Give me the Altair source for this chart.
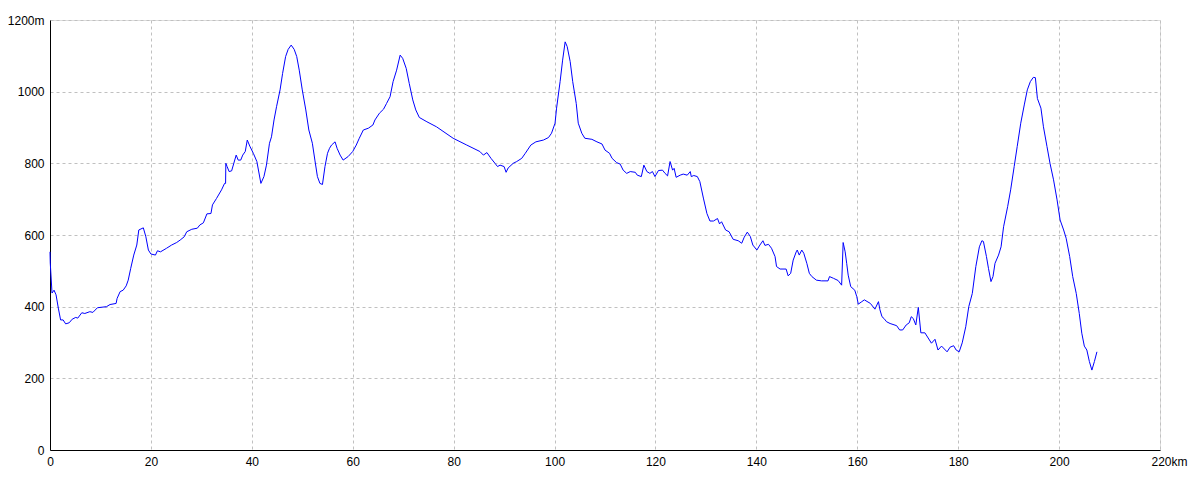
import altair as alt
import pandas as pd

km = [0.0, 0.05, 0.4, 0.8, 1.2, 1.65, 2.1, 2.6, 3.1, 3.8, 4.4, 5.1, 5.5, 6.3, 6.9, 7.9, 8.5, 9.4,
      11.2, 11.9, 13.1, 13.3, 13.9, 14.5, 15.1, 15.5, 16.0, 16.6, 17.2, 17.6, 18.5, 19.0, 19.5,
      20.0, 20.9, 21.3, 21.9, 23.1, 24.1, 25.1, 25.8, 26.6, 27.1, 28.1, 29.2, 29.7, 30.4, 31.1,
      31.9, 32.2, 33.0, 34.0, 34.6, 34.8, 34.85, 35.1, 35.5, 36.0, 36.9, 37.3, 37.8, 38.2, 38.7,
      39.1, 39.6, 40.3, 41.0, 41.8, 42.4, 42.9, 43.5, 43.9, 44.4, 44.9, 45.6, 46.1, 46.7, 47.2,
      47.8, 48.4, 48.9, 49.4, 50.0, 50.7, 51.3, 52.0, 52.5, 53.0, 53.5, 54.0, 54.5, 55.0, 55.4,
      55.8, 56.5, 56.9, 57.5, 58.1, 59.1, 60.0, 60.7, 61.3, 62.1, 63.1, 64.0, 64.4, 65.3, 66.1,
      66.7, 67.4, 68.0, 68.7, 69.4, 69.9, 70.6, 71.2, 71.9, 72.5, 73.2, 74.7, 76.6, 79.9, 82.6,
      85.2, 85.9, 86.6, 87.4, 88.2, 88.7, 89.2, 90.0, 90.4, 90.8, 91.8, 92.5, 93.5, 94.2, 95.3,
      96.3, 97.8, 98.8, 99.4, 100.1, 100.4, 101.1, 101.6, 102.1, 102.5, 103.1, 103.6, 104.3,
      104.7, 105.4, 106.0, 107.4, 108.4, 109.4, 110.0, 110.9, 111.4, 112.3, 113.0, 113.6, 114.3,
      115.0, 116.0, 116.4, 117.2, 117.7, 118.3, 118.9, 119.4, 119.9, 120.6, 121.4, 121.9, 122.4,
      122.9, 123.4, 123.7, 124.1, 124.9, 125.5, 126.3, 126.9, 127.1, 127.6, 128.3, 128.8, 129.5,
      130.2, 130.8, 131.5, 132.3, 132.7, 133.1, 133.9, 134.6, 135.4, 136.4, 137.1, 137.6, 138.2,
      138.8, 139.3, 140.1, 140.7, 141.3, 141.7, 142.4, 143.0, 143.7, 144.0, 144.7, 145.9, 146.3,
      146.8, 147.3, 147.9, 148.1, 148.5, 149.0, 149.4, 150.0, 150.5, 151.0, 151.9, 152.9, 154.2,
      154.5, 155.3, 156.2, 156.9, 157.2, 157.6, 157.9, 158.2, 158.7, 159.5, 159.9, 160.2, 160.9,
      161.4, 162.6, 163.5, 164.2, 164.5, 164.9, 165.3, 165.8, 166.5, 167.8, 168.4, 169.0, 169.7,
      170.3, 170.7, 171.1, 171.6, 172.1, 172.6, 173.4, 174.7, 175.4, 176.0, 176.7, 177.8, 178.4,
      179.1, 179.6, 180.2, 180.8, 181.5, 182.1, 182.8, 183.5, 184.2, 184.7, 185.0, 185.6, 186.0,
      186.5, 186.9, 187.3, 188.0, 188.5, 189.0, 189.8, 190.4, 191.1, 191.7, 192.4, 193.1, 193.7,
      194.3, 194.9, 195.3, 195.7, 196.4, 196.9, 197.6, 198.2, 198.9, 199.6, 200.2, 200.9, 201.4,
      202.1, 202.7, 203.4, 204.0, 204.5, 205.0, 205.5, 206.0, 206.5, 207.0, 207.5]

elev = [553, 522, 438, 446, 433, 396, 363, 363, 352, 355, 365, 370, 368, 383, 381, 386, 384, 397,
        400, 406, 409, 423, 442, 446, 458, 474, 507, 544, 572, 614, 620, 595, 558,
        547, 544, 556, 553, 563, 572, 579, 586, 595, 609, 616, 619, 628, 634, 659,
        660, 684, 702, 726, 744, 744, 800, 791, 777, 779, 823, 809, 809, 823, 833,
        865, 848, 828, 805, 744, 763, 795, 856, 874, 921, 958, 1005, 1051, 1098, 1118,
        1130, 1118, 1098, 1060, 1005, 949, 893, 856, 809, 763, 744, 741, 791, 828, 842,
        851, 860, 842, 823, 809, 819, 833, 851, 870, 893, 898, 907, 921, 940, 951,
        967, 986, 1028, 1060, 1102, 1093, 1065, 1023, 977, 949, 928, 916, 902, 870, 851,
        833, 823, 830, 814, 800, 791, 795, 791, 775, 787, 800, 805, 814, 828, 851,
        860, 865, 872, 884, 912, 954, 1028, 1088, 1139, 1126, 1084, 1028, 967,
        912, 884, 870, 867, 860, 854, 837, 828, 814, 802, 798, 781, 772,
        777, 775, 767, 763, 795, 777, 772, 777, 763, 780, 781, 772, 765,
        805, 781, 786, 761, 767, 770, 767, 777, 763, 766, 763, 749, 703,
        660, 639, 639, 646, 631, 637, 614, 609, 588, 584, 577, 594, 608,
        596, 572, 558, 572, 584, 571, 574, 563, 540, 512, 505, 505, 486,
        493, 530, 553, 558, 544, 558, 549, 521, 493, 484, 474, 472, 472,
        484, 479, 473, 460, 579, 553, 521, 488, 456, 446, 428, 407, 414,
        419, 409, 393, 414, 391, 372, 367, 358, 353, 347, 335, 335, 349,
        355, 372, 367, 349, 398, 327, 327, 298, 309, 279, 290, 274, 287,
        291, 279, 274, 299, 344, 400, 437, 512, 567, 584, 582, 540, 507,
        470, 484, 521, 544, 567, 623, 679, 726, 791, 847, 912, 963, 1005,
        1028, 1040, 1039, 981, 954, 902, 847, 800, 754, 698, 642, 614, 591,
        540, 484, 437, 381, 326, 290, 279, 247, 223, 247, 274]

x_ticks = [0, 20, 40, 60, 80, 100, 120, 140, 160, 180, 200, 220]
y_ticks = [0, 200, 400, 600, 800, 1000, 1200]

df = pd.DataFrame({"km": km, "elev": elev, "order": list(range(len(km)))})

FONT = "Liberation Sans"
GRID = "#c0c0c0"

chart = alt.Chart(df).mark_line(color="#0000ff", strokeWidth=1).encode(
    x=alt.X("km:Q",
            scale=alt.Scale(domain=[0, 220], nice=False, zero=False),
            axis=alt.Axis(values=x_ticks, title=None, grid=True, gridColor=GRID,
                          gridDash=[3, 3], gridWidth=1, ticks=False, format="d",
                          domainColor="black", domainWidth=1,
                          labelFont=FONT, labelFontSize=12, labelColor="black",
                          labelPadding=6, labelFlush=False, labelOverlap=False,
                          labelExpr="datum.value == 220 ? '220km' : datum.label",
                          labelAlign={"condition": {"test": "datum.value == 220", "value": "left"},
                                      "value": "center"},
                          labelOffset={"condition": {"test": "datum.value == 220", "value": -9},
                                       "value": 0})),
    y=alt.Y("elev:Q",
            scale=alt.Scale(domain=[0, 1200], nice=False),
            axis=alt.Axis(values=y_ticks, title=None, grid=True, gridColor=GRID,
                          gridDash=[3, 3], gridWidth=1, ticks=False, format="d",
                          domainColor="black", domainWidth=1,
                          labelFont=FONT, labelFontSize=12, labelColor="black",
                          labelPadding=6, labelOverlap=False,
                          labelExpr="datum.value == 1200 ? '1200m' : datum.label")),
    order="order:Q",
).properties(
    width=1110, height=430,
    padding={"left": 42, "top": 12, "right": 30, "bottom": 30},
    autosize=alt.AutoSizeParams(type="none"),
).configure_view(stroke="black", strokeWidth=1).configure(background="white")

chart.save("out.html", embed_options={"renderer": "svg", "actions": False})
